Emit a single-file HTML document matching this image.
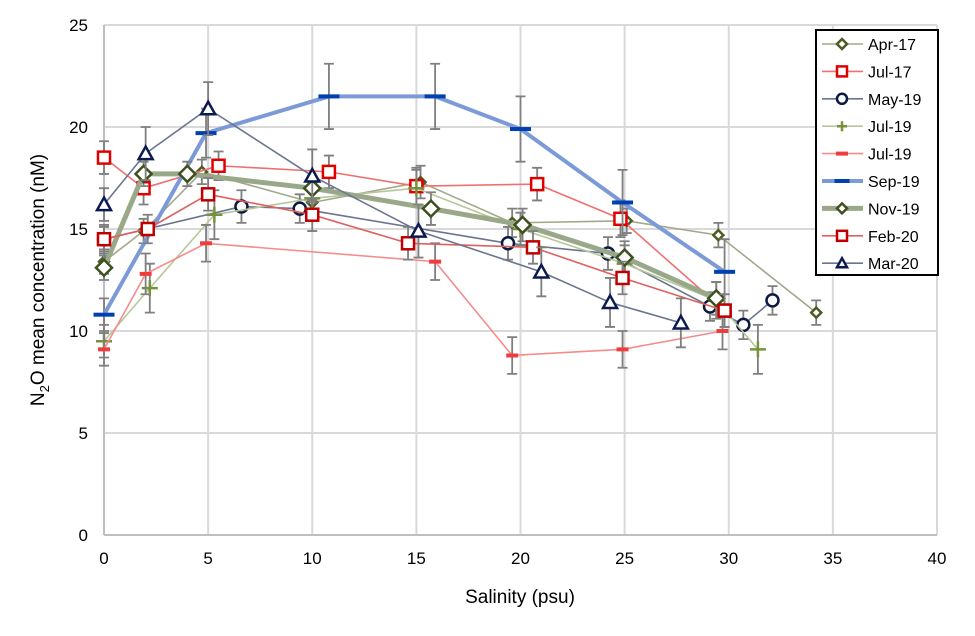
<!DOCTYPE html>
<html><head><meta charset="utf-8"><style>
body{margin:0;background:#fff}
svg{display:block;font-family:"Liberation Sans",Arial,sans-serif}
</style></head><body>
<svg id="chart" width="975" height="636" viewBox="0 0 975 636">
<g id="grid"></g>
<g id="axes"></g>
<g id="series"></g>
<g id="legend"></g>
<text x="520" y="603" font-size="19" text-anchor="middle" fill="#000">Salinity (psu)</text>
<text transform="translate(44,280) rotate(-90)" font-size="19" text-anchor="middle" fill="#000">N<tspan font-size="13" dy="5">2</tspan><tspan dy="-5">O mean concentration (nM)</tspan></text>
</svg>
<script>
const xTicks=[0,5,10,15,20,25,30,35,40];
const yTicks=[0,5,10,15,20,25];
const seriesNames=["Apr-17","Jul-17","May-19","Jul-19","Jul-19","Sep-19","Nov-19","Feb-20","Mar-20"];
const aprX=[0,1.9,4.7,10,15.2,19.6,25.1,29.5,34.2];
const aprY=[13.4,14.9,17.8,16.3,17.3,15.3,15.4,14.7,10.9];
const aprE=[0.6,0.6,0.6,0.6,0.8,0.7,0.6,0.6,0.6];
const jul17X=[0,1.9,5.5,10.8,15,20.8,24.8,29.8];
const jul17Y=[18.5,17.0,18.1,17.8,17.1,17.2,15.5,11.0];
const jul17E=[0.8,0.8,0.7,0.8,0.9,0.8,0.9,0.8];
const may19X=[0,6.6,9.4,19.4,24.2,29.1,30.7,32.1];
const may19Y=[14.5,16.1,16.0,14.3,13.8,11.2,10.3,11.5];
const may19E=[0.7,0.8,0.7,0.8,0.8,0.7,0.7,0.7];
const jul19aX=[0,2.2,5.3,10,15,20,25,29.4,31.4];
const jul19aY=[9.5,12.1,15.7,16.5,17.0,15.0,13.3,11.5,9.1];
const jul19aE=[0.8,1.2,1.2,0.8,0.9,0.8,0.9,0.9,1.2];
const jul19bX=[0,2,4.9,15.9,19.6,24.9,29.7];
const jul19bY=[9.1,12.8,14.3,13.4,8.8,9.1,10.0];
const jul19bE=[0.8,1.0,0.9,0.9,0.9,0.9,0.9];
const sepX=[0,4.9,10.8,15.9,20,24.9,29.8];
const sepY=[10.8,19.7,21.5,21.5,19.9,16.3,12.9];
const sepE=[0.8,1.2,1.6,1.6,1.6,1.6,1.6];
const novX=[0,1.9,4.0,10,15.7,20.1,25,29.4];
const novY=[13.1,17.7,17.7,17.0,16.0,15.2,13.6,11.6];
const novE=[0.6,0.6,0.6,0.6,0.8,0.8,0.8,0.8];
const febX=[0,2.1,5,10,14.6,20.6,24.9,29.8];
const febY=[14.5,15.0,16.7,15.7,14.3,14.1,12.6,11.0];
const febE=[0.6,0.7,0.8,0.8,0.8,0.8,0.8,0.8];
const marX=[0,2,5,10,15.1,21,24.3,27.7];
const marY=[16.2,18.7,20.9,17.6,14.9,12.9,11.4,10.4];
const marE=[0.8,1.3,1.3,1.3,1.3,1.2,1.2,1.2];

const X0=104,X1=937,Y0=535,Y1=25;
const xs=v=>X0+v*(X1-X0)/40;
const ys=v=>Y0-v*(Y0-Y1)/25;
const NS="http://www.w3.org/2000/svg";
function mk(tag,attrs,parent){const e=document.createElementNS(NS,tag);for(const k in attrs)e.setAttribute(k,attrs[k]);parent.appendChild(e);return e;}
const grid=document.getElementById('grid'),axes=document.getElementById('axes'),ser=document.getElementById('series'),leg=document.getElementById('legend');
xTicks.forEach(t=>{
  if(t>0){const l=mk('line',{x1:xs(t),x2:xs(t),y1:Y1,y2:Y0,stroke:'#d9d9d9','stroke-width':2},grid);
  
  }
  const tx=mk('text',{x:xs(t),y:Y0+29,'font-size':17,'text-anchor':'middle'},axes);tx.textContent=t;
  
  
});
yTicks.forEach(t=>{
  if(t>0){const l=mk('line',{x1:X0,x2:X1,y1:ys(t),y2:ys(t),stroke:'#d9d9d9','stroke-width':2},grid);
  
  }
  const tx=mk('text',{x:X0-16,y:ys(t)+6,'font-size':17,'text-anchor':'end'},axes);tx.textContent=t;
  
  
});
const ax=mk('line',{x1:X0,x2:X0,y1:Y1,y2:Y0,stroke:'#bfbfbf','stroke-width':2},axes);


const bx=mk('line',{x1:X0,x2:X1,y1:Y0,y2:Y0,stroke:'#bfbfbf','stroke-width':2},axes);



const specs=[
 {x:aprX,y:aprY,e:aprE,line:'#a3a88a',lw:1.6,m:'diamond',ms:5,mc:'#4b5b23'},
 {x:jul17X,y:jul17Y,e:jul17E,line:'#f07070',lw:1.6,m:'square',ms:6,mc:'#e00000'},
 {x:may19X,y:may19Y,e:may19E,line:'#6a7590',lw:1.6,m:'circle',ms:6,mc:'#0c1a40'},
 {x:jul19aX,y:jul19aY,e:jul19aE,line:'#b7c79a',lw:1.6,m:'plus',ms:8,mc:'#76933c'},
 {x:jul19bX,y:jul19bY,e:jul19bE,line:'#f58c8c',lw:1.6,m:'dash',ms:4,mc:'#f03c3c'},
 {x:sepX,y:sepY,e:sepE,line:'#7c9ad8',lw:4,m:'dash',ms:7,mc:'#0040b0'},
 {x:novX,y:novY,e:novE,line:'#9aa88a',lw:5,m:'diamond',ms:8,mc:'#3f5020'},
 {x:febX,y:febY,e:febE,line:'#e06060',lw:1.6,m:'square',ms:6,mc:'#c00000'},
 {x:marX,y:marY,e:marE,line:'#6a7590',lw:1.6,m:'triangle',ms:7,mc:'#0c1a50'}
];
function marker(p,m,s,c,cx,cy){
  let e;
  if(m==='diamond')e=mk('polygon',{points:`${cx},${cy-s} ${cx+s},${cy} ${cx},${cy+s} ${cx-s},${cy}`,fill:'#fff',stroke:c,'stroke-width':2.5},p);
  else if(m==='square')e=mk('rect',{x:cx-s,y:cy-s,width:2*s,height:2*s,fill:'#fff',stroke:c,'stroke-width':2.5},p);
  else if(m==='circle')e=mk('circle',{cx:cx,cy:cy,r:s,fill:'#fff',stroke:c,'stroke-width':2.5},p);
  else if(m==='triangle')e=mk('polygon',{points:`${cx},${cy-s} ${cx+s},${cy+s*0.8} ${cx-s},${cy+s*0.8}`,fill:'#fff',stroke:c,'stroke-width':2.5},p);
  else if(m==='plus')e=mk('path',{d:`M${cx-s},${cy}H${cx+s}M${cx},${cy-s}V${cy+s}`,stroke:c,'stroke-width':2.5,fill:'none'},p);
  else e=mk('rect',{x:cx-s*1.5,y:cy-2,width:s*3,height:4,fill:c},p);
  return e;
}
specs.forEach((s,i)=>{
  const g=mk('g',{},ser);
  
  
  s.x.forEach((xv,j)=>{
    const cx=xs(xv),t=ys(s.y[j]+s.e[j]),b=ys(s.y[j]-s.e[j]);
    const eb=mk('path',{d:`M${cx},${t}V${b}M${cx-5},${t}H${cx+5}M${cx-5},${b}H${cx+5}`,stroke:'#7f7f7f','stroke-width':1.8,fill:'none'},g);
    
    
  });
  const pl=mk('polyline',{points:s.x.map((xv,j)=>xs(xv)+','+ys(s.y[j])).join(' '),fill:'none',stroke:s.line,'stroke-width':s.lw,'stroke-linejoin':'round'},g);
  
  
  s.x.forEach((xv,j)=>{
    const mm=marker(g,s.m,s.ms,s.mc,xs(xv),ys(s.y[j]));
    
    
  });
});
const box=mk('rect',{x:816,y:30,width:122,height:245,fill:'#fff',stroke:'#000','stroke-width':2},leg);


specs.forEach((s,i)=>{
  const cy=44+i*27.4;
  const g=mk('g',{},leg);
  
  
  mk('line',{x1:822,x2:863,y1:cy,y2:cy,stroke:s.line,'stroke-width':s.lw},g);
  marker(g,s.m,Math.min(s.ms,5),s.mc,842,cy);
  const t=mk('text',{x:868,y:cy+6,'font-size':16},g);t.textContent=seriesNames[i];
});
</script>
</body></html>
